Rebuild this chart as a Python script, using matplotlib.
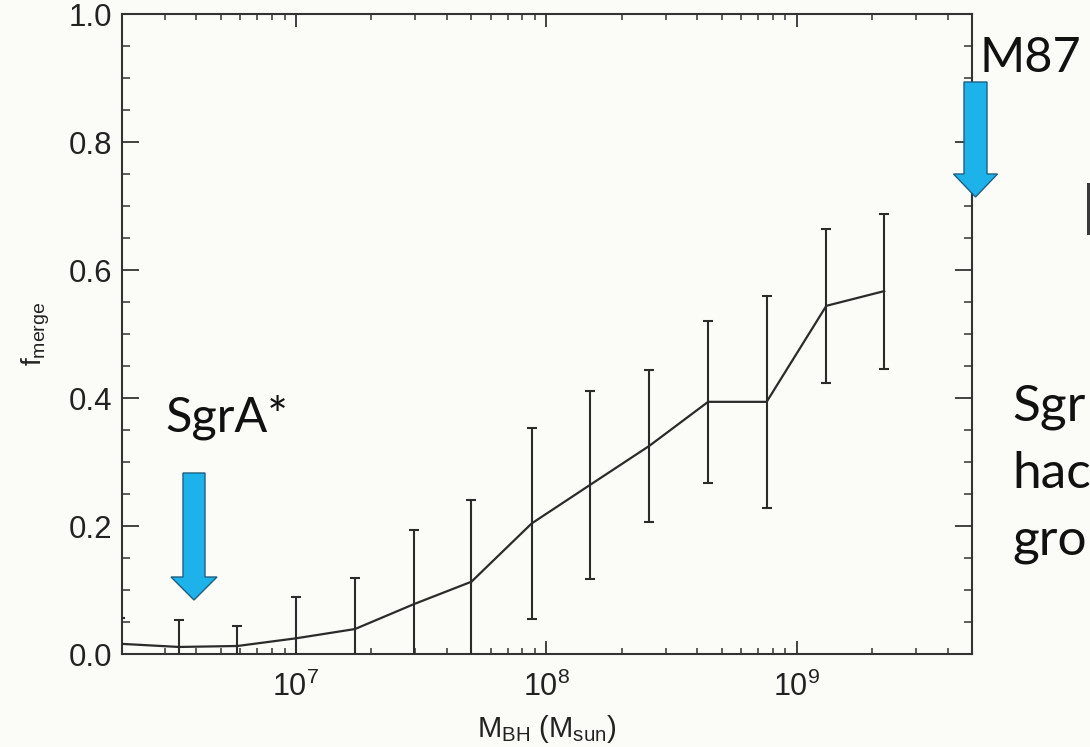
import matplotlib
matplotlib.use("Agg")
import matplotlib.pyplot as plt
from matplotlib.patches import Polygon, Rectangle
from matplotlib.ticker import LogLocator, LogFormatterMathtext, MultipleLocator, FixedLocator, FormatStrFormatter, NullFormatter

# ---- data ----
mass = [1.98e6, 3.41e6, 5.83e6, 1.0e7, 1.72e7, 2.96e7, 5.02e7, 8.73e7,
        1.49e8, 2.57e8, 4.42e8, 7.57e8, 1.31e9, 2.23e9]
f_merge = [0.016, 0.011, 0.0125, 0.0245, 0.039, 0.078, 0.113, 0.204,
           0.264, 0.325, 0.394, 0.394, 0.544, 0.567]
f_err = [0.040, 0.042, 0.032, 0.065, 0.080, 0.116, 0.127, 0.149,
         0.147, 0.119, 0.127, 0.166, 0.120, 0.121]
y_ticks = [0.0, 0.2, 0.4, 0.6, 0.8, 1.0]
x_ticks = [1e7, 1e8, 1e9]

W, H = 1090, 747
BG = "#fbfcf8"
plt.rcParams["mathtext.fontset"] = "custom"
plt.rcParams["mathtext.rm"] = "Liberation Sans"
plt.rcParams["mathtext.it"] = "Liberation Sans"
plt.rcParams["font.family"] = ["Liberation Sans", "DejaVu Sans"]

fig = plt.figure(figsize=(W / 100, H / 100), dpi=100, facecolor=BG)
ax = fig.add_axes([122 / W, 1 - 654 / H, (972 - 122) / W, (654 - 14) / H])
ax.set_facecolor(BG)

ax.errorbar(mass, f_merge, yerr=f_err, color="#2b2b2b", lw=1.6,
            elinewidth=1.5, capsize=3.5, capthick=1.5, zorder=3)

ax.set_xscale("log")
ax.set_xlim(2.02e6, 5.0e9)
ax.set_ylim(0, 1)

ax.xaxis.set_major_locator(FixedLocator(x_ticks))
ax.xaxis.set_major_formatter(LogFormatterMathtext())
ax.xaxis.set_minor_locator(LogLocator(base=10, subs=range(2, 10), numticks=20))
ax.xaxis.set_minor_formatter(NullFormatter())
ax.yaxis.set_major_locator(FixedLocator(y_ticks))
ax.yaxis.set_major_formatter(FormatStrFormatter("%.1f"))
ax.yaxis.set_minor_locator(MultipleLocator(0.05))

for s in ax.spines.values():
    s.set_linewidth(1.5)
    s.set_color("#333333")

ax.tick_params(axis="x", which="major", direction="in", length=9.2, width=1.3,
               top=True, bottom=True, labelsize=22, pad=13, colors="#333333",
               labelcolor="#222222")
ax.tick_params(axis="x", which="minor", direction="in", length=4.6, width=1.1,
               top=True, bottom=True, colors="#333333")
ax.tick_params(axis="y", which="major", direction="in", length=12.2, width=1.3,
               left=True, right=True, labelsize=22.5, pad=7, colors="#333333",
               labelcolor="#222222")
ax.tick_params(axis="y", which="minor", direction="in", length=6.1, width=1.1,
               left=True, right=True, colors="#333333")

ax.set_xlabel(r"M$_{\rm BH}$ (M$_{\rm sun}$)", fontsize=21, labelpad=7, color="#222222")
ax.set_ylabel(r"f$_{\rm merge}$", fontsize=20, labelpad=12, color="#222222")


def px(x, y):
    return (x / W, 1 - y / H)


def arrow(cx, top, head_base, tip, shaft_half, head_half):
    pts = [px(cx - shaft_half, top), px(cx + shaft_half, top),
           px(cx + shaft_half, head_base), px(cx + head_half, head_base),
           px(cx, tip), px(cx - head_half, head_base),
           px(cx - shaft_half, head_base)]
    fig.patches.append(Polygon(pts, closed=True, transform=fig.transFigure,
                               facecolor="#1db3ea", edgecolor="#1f5f82",
                               linewidth=1.0, zorder=10))


arrow(194, 473, 577, 600, 11, 23)
arrow(975.5, 82, 174, 197, 11.5, 22)

slide_font = ["Lato", "DejaVu Sans"]
fig.text(*px(165, 432), "SgrA*", fontsize=35, family=slide_font, color="#111111",
         ha="left", va="baseline")
fig.text(*px(980, 72), "M87", fontsize=35, family=slide_font, color="#111111",
         ha="left", va="baseline")
fig.text(*px(1012, 421), "Sgr", fontsize=37, family=slide_font, color="#111111",
         ha="left", va="baseline")
fig.text(*px(1012, 488), "hac", fontsize=37, family=slide_font, color="#111111",
         ha="left", va="baseline")
fig.text(*px(1012, 555), "gro", fontsize=37, family=slide_font, color="#111111",
         ha="left", va="baseline")

# partial glyph stem visible at the right edge of the slide
x0, y0 = px(1087, 235)
x1, y1 = px(1090, 183)
fig.patches.append(Rectangle((x0, y0), x1 - x0, y1 - y0, transform=fig.transFigure,
                             facecolor="#3a3a3a", edgecolor="none", zorder=10))

fig.savefig("out.png", dpi=100, facecolor=BG)
